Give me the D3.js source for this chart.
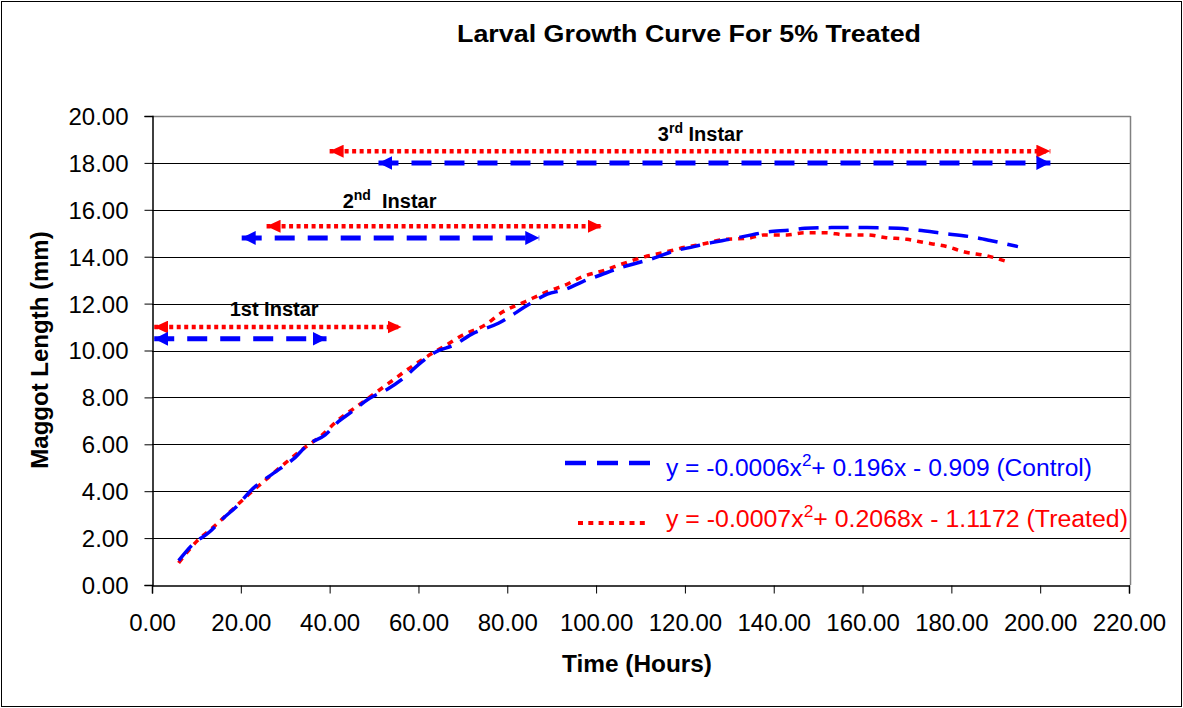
<!DOCTYPE html>
<html><head><meta charset="utf-8">
<script src="https://cdn.jsdelivr.net/npm/d3@7"></script>
<style>
html,body{margin:0;padding:0;background:#fff;}
svg{display:block;font-family:"Liberation Sans",Arial,Helvetica,sans-serif;}
</style></head>
<body>
<svg id="chart" width="1183" height="708"></svg>
<script>
// ---- data ----
const title = "Larval Growth Curve For 5% Treated";
const xTicks = [0,20,40,60,80,100,120,140,160,180,200,220];
const yTicks = [0,2,4,6,8,10,12,14,16,18,20];

const controlT = [6,9,13,16,19,22,29,32,35,39,42,45,49,53,57,60,64,68,72,78,85,89,93,97,101,105,109,114,117,122,126,130,135,138,144,147,153,161,168,172,178,185,189,195];
const controlV = [1.04,1.7,2.27,2.84,3.34,3.98,4.98,5.40,5.97,6.40,6.97,7.39,7.96,8.35,8.88,9.4,9.95,10.23,10.7,11.16,11.98,12.40,12.6,12.94,13.22,13.5,13.72,14.0,14.21,14.43,14.6,14.74,14.93,15.04,15.14,15.21,15.24,15.24,15.21,15.14,15.0,14.83,14.68,14.43];

const treatedT = [6,10,14,18,22,26,30,34,38,42,46,50,54,58,62,66,70,75,79,84,89,93,97,102,106,111,115,120,124,129,134,138,143,147,152,156,161,165,170,174,179,183,188,193];
const treatedV = [0.94,1.85,2.5,3.2,3.9,4.55,5.2,5.8,6.35,7.05,7.6,8.15,8.7,9.25,9.75,10.2,10.66,11.09,11.65,12.08,12.51,12.79,13.15,13.43,13.7,14.0,14.17,14.4,14.54,14.74,14.78,14.93,14.93,15.02,15.02,14.93,14.93,14.82,14.74,14.6,14.43,14.2,14.04,13.76];

// instar arrows
const instarNames = ["1","2","3"];
const instarSup = ["st","nd","rd"];
const instarSuffix = [" Instar","  Instar"," Instar"];
const controlStart = [0.5,20.2,51];
const controlEnd = [39.3,87.2,202.3];
const controlLevel = [10.5,14.8,18.0];
const treatedStart = [0.5,25.8,40];
const treatedEnd = [56.2,101.3,202.3];
const treatedLevel = [11.0,15.3,18.5];
const instarLabelX = [27.5,53.5,123.5];
const instarLabelY = [11.47,16.06,18.93];

const legendControl = ["y = -0.0006x","2","+ 0.196x - 0.909 (Control)"];
const legendTreated = ["y = -0.0007x","2","+ 0.2068x - 1.1172 (Treated)"];

const BLUE = "#0000ff", RED = "#ff0000";

// ---- layout ----
const svg = d3.select("#chart");
const L = 152, R = 1129, T = 116, B = 585;
const x = d3.scaleLinear().domain([0,220]).range([L,R]);
const y = d3.scaleLinear().domain([0,20]).range([B,T]);

// outer frame
svg.append("rect").attr("x",1.5).attr("y",1.5).attr("width",1180).attr("height",705)
  .attr("fill","#fff").attr("stroke","#000").attr("stroke-width",1);

// title
svg.append("text").attr("x",689).attr("y",42).attr("text-anchor","middle")
  .attr("font-size",24).attr("font-weight","bold")
  .attr("textLength",464).attr("lengthAdjust","spacingAndGlyphs").text(title);

// gridlines
svg.append("g").selectAll("line").data(yTicks.filter(d=>d>0 && d<20)).join("line")
  .attr("x1",L).attr("x2",x(220)+1).attr("y1",d=>Math.round(y(d))+0.5).attr("y2",d=>Math.round(y(d))+0.5)
  .attr("stroke","#000").attr("stroke-width",1);
// plot border top / right
svg.append("line").attr("x1",L).attr("x2",x(220)+1.5).attr("y1",T+0.5).attr("y2",T+0.5).attr("stroke","#808080").attr("stroke-width",1.5);
svg.append("line").attr("x1",x(220)+1.5).attr("x2",x(220)+1.5).attr("y1",T).attr("y2",B).attr("stroke","#808080").attr("stroke-width",1.5);

// axes
const fmt = d3.format(".2f");
const xAxis = svg.append("g").attr("transform",`translate(0,${B+0.5})`)
  .call(d3.axisBottom(x).tickValues(xTicks).tickFormat(fmt).tickSize(8).tickPadding(20));
const yAxis = svg.append("g").attr("transform",`translate(${L+0.5},0)`)
  .call(d3.axisLeft(y).tickValues(yTicks).tickFormat(fmt).tickSize(8).tickPadding(16));
[xAxis,yAxis].forEach(g=>{
  g.select(".domain").attr("stroke","#000").attr("stroke-width",1.5);
  g.selectAll(".tick line").attr("stroke","#000");
  g.selectAll(".tick text").attr("font-size",24).attr("fill","#000")
   .attr("font-family",'"Liberation Sans",Arial,sans-serif');
});
yAxis.selectAll(".tick text").attr("dy","0.35em");
xAxis.selectAll(".tick text").attr("dy","0.71em");

// axis titles
svg.append("text").attr("x",637).attr("y",672).attr("text-anchor","middle")
  .attr("font-size",24).attr("font-weight","bold")
  .attr("textLength",150).attr("lengthAdjust","spacingAndGlyphs").text("Time (Hours)");
svg.append("text").attr("transform","translate(48,350) rotate(-90)").attr("text-anchor","middle")
  .attr("font-size",24).attr("font-weight","bold").text("Maggot Length (mm)");

// markers
const defs = svg.append("defs");
function marker(id,color,w,h,rev){
  const m = defs.append("marker").attr("id",id).attr("markerUnits","userSpaceOnUse")
    .attr("markerWidth",w).attr("markerHeight",h).attr("viewBox",`0 0 ${w} ${h}`)
    .attr("refX",rev?0:w).attr("refY",h/2).attr("orient","auto");
  m.append("path").attr("d",rev?`M0,${h/2}L${w},0L${w},${h}Z`:`M0,0L${w},${h/2}L0,${h}Z`).attr("fill",color);
}
marker("rEnd",RED,14,13,false); marker("rStart",RED,14,13,true);
marker("bEnd",BLUE,14,14,false); marker("bStart",BLUE,14,14,true);

// curves
const line = d3.line().x(d=>x(d[0])).y(d=>y(d[1])).curve(d3.curveMonotoneX);
const treated = treatedT.map((t,i)=>[t,treatedV[i]]);
const control = controlT.map((t,i)=>[t,controlV[i]]);
svg.append("path").attr("d",line(treated)).attr("fill","none").attr("stroke",RED)
  .attr("stroke-width",3.5).attr("stroke-dasharray","6,6");
svg.append("path").attr("d",line(control)).attr("fill","none").attr("stroke",BLUE)
  .attr("stroke-width",3.5).attr("stroke-dasharray","20,10");

// instar arrows
const ag = svg.append("g");
instarNames.forEach((n,i)=>{
  ag.append("line").attr("x1",x(treatedStart[i])).attr("x2",x(treatedEnd[i]))
    .attr("y1",y(treatedLevel[i])).attr("y2",y(treatedLevel[i]))
    .attr("stroke",RED).attr("stroke-width",4.5).attr("stroke-dasharray","4,3.5")
    .attr("marker-start","url(#rStart)").attr("marker-end","url(#rEnd)");
  ag.append("line").attr("x1",x(controlStart[i])).attr("x2",x(controlEnd[i]))
    .attr("y1",y(controlLevel[i])).attr("y2",y(controlLevel[i]))
    .attr("stroke",BLUE).attr("stroke-width",5).attr("stroke-dasharray","20,13")
    .attr("marker-start","url(#bStart)").attr("marker-end","url(#bEnd)");
  const t = ag.append("text").attr("x",x(instarLabelX[i])).attr("y",y(instarLabelY[i]))
    .attr("text-anchor","middle").attr("font-size",20).attr("font-weight","bold")
    .attr("xml:space","preserve");
  t.append("tspan").text(n);
  if(i===0){ t.append("tspan").text(instarSup[i]); }
  else { t.append("tspan").attr("font-size",14).attr("dy",-8).text(instarSup[i]); }
  t.append("tspan").attr("dy",i===0?0:8).text(instarSuffix[i]);
});

// legend
const lg = svg.append("g");
lg.append("line").attr("x1",565).attr("x2",652).attr("y1",463).attr("y2",463)
  .attr("stroke",BLUE).attr("stroke-width",4.5).attr("stroke-dasharray","21,11");
lg.append("line").attr("x1",578).attr("x2",650).attr("y1",523).attr("y2",523)
  .attr("stroke",RED).attr("stroke-width",4).attr("stroke-dasharray","5,5.3");
function legText(parts,color,yy,len){
  const t = lg.append("text").attr("x",666).attr("y",yy).attr("font-size",23).attr("fill",color)
    .attr("textLength",len).attr("lengthAdjust","spacingAndGlyphs");
  t.append("tspan").text(parts[0]);
  t.append("tspan").attr("font-size",16).attr("dy",-10).text(parts[1]);
  t.append("tspan").attr("dy",10).text(parts[2]);
}
legText(legendControl,BLUE,476,426);
legText(legendTreated,RED,527,462);
</script>
</body></html>
